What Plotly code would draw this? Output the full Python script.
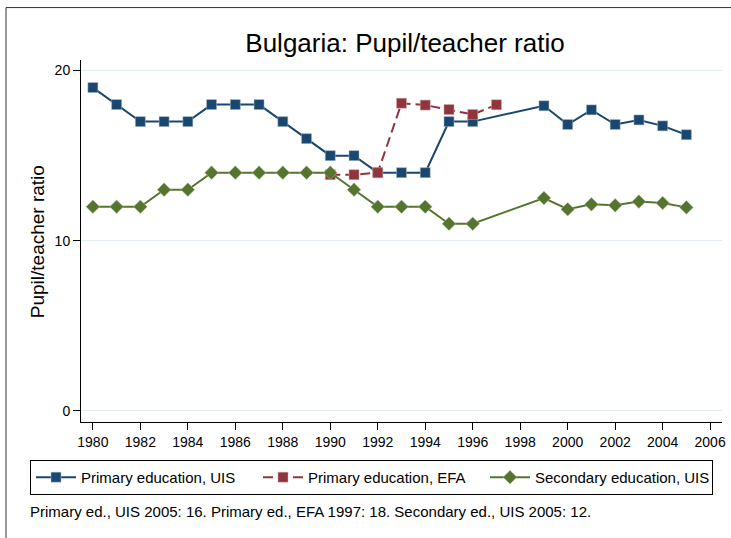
import plotly.graph_objects as go

# ---- data ----
years_primary_uis = [1980, 1981, 1982, 1983, 1984, 1985, 1986, 1987, 1988, 1989, 1990,
                     1991, 1992, 1993, 1994, 1995, 1996, 1999, 2000, 2001, 2002, 2003, 2004, 2005]
primary_uis = [19, 18, 17, 17, 17, 18, 18, 18, 17, 16, 15,
               15, 14, 14, 14, 17, 17, 17.93, 16.83, 17.69, 16.83, 17.1, 16.75, 16.23]

years_primary_efa = [1990, 1991, 1992, 1993, 1994, 1995, 1996, 1997]
primary_efa = [13.88, 13.88, 14.0, 18.08, 17.97, 17.71, 17.42, 17.99]

years_secondary_uis = [1980, 1981, 1982, 1983, 1984, 1985, 1986, 1987, 1988, 1989, 1990,
                       1991, 1992, 1993, 1994, 1995, 1996, 1999, 2000, 2001, 2002, 2003, 2004, 2005]
secondary_uis = [12, 12, 12, 13, 13, 14, 14, 14, 14, 14, 14,
                 13, 12, 12, 12, 11, 11, 12.51, 11.85, 12.14, 12.08, 12.3, 12.22, 11.96]

series_names = ["Primary education, UIS", "Primary education, EFA", "Secondary education, UIS"]
title_text = "Bulgaria: Pupil/teacher ratio"
y_title = "Pupil/teacher ratio"
note_text = "Primary ed., UIS 2005: 16. Primary ed., EFA 1997: 18. Secondary ed., UIS 2005: 12."
x_ticks = list(range(1980, 2007, 2))
y_ticks = [0, 10, 20]

FONT = "Liberation Sans, Arial, Helvetica, sans-serif"
NAVY = "#1a476f"
MAROON = "#90353b"
GREEN = "#55752f"

fig = go.Figure()
fig.add_trace(go.Scatter(
    x=years_primary_uis, y=primary_uis, name=series_names[0], mode="lines+markers",
    line=dict(color=NAVY, width=2),
    marker=dict(symbol="square", size=10, color=NAVY, line=dict(width=0.5, color="#a9bccd"))))
fig.add_trace(go.Scatter(
    x=years_primary_efa, y=primary_efa, name=series_names[1], mode="lines+markers",
    line=dict(color=MAROON, width=2, dash="10px,5px"),
    marker=dict(symbol="square", size=10, color=MAROON, line=dict(width=0.5, color="#d0a9ac"))))
fig.add_trace(go.Scatter(
    x=years_secondary_uis, y=secondary_uis, name=series_names[2], mode="lines+markers",
    line=dict(color=GREEN, width=2),
    marker=dict(symbol="diamond", size=10.5, color=GREEN, line=dict(width=0.5, color="#b3c2a2"))))

W, H = 731, 538
L, R, T, B = 81, 722, 59.5, 422
pw, ph = R - L, B - T

fig.update_layout(
    width=W, height=H,
    margin=dict(l=L, r=W - R, t=T, b=H - B, autoexpand=False),
    paper_bgcolor="white", plot_bgcolor="white",
    font=dict(family=FONT, size=14, color="#000000"),
    title=dict(text=title_text, font=dict(size=26, color="#000000"),
               x=405 / W, xref="container", xanchor="center",
               y=1 - 43 / H, yref="container", yanchor="middle"),
    showlegend=True,
    legend=dict(orientation="h", xref="paper", yref="paper",
                x=(30 - L) / pw, xanchor="left", y=(B - 460) / ph, yanchor="top",
                bordercolor="#000000", borderwidth=1, bgcolor="white",
                font=dict(size=15), itemwidth=40,
                entrywidth=172, entrywidthmode="pixels",
                itemclick=False),
    xaxis=dict(range=[1979.5, 2006.5], tickmode="array", tickvals=x_ticks,
               showgrid=False, zeroline=False, showline=True, linecolor="#000000", linewidth=1,
               ticks="outside", ticklen=7, tickcolor="#000000", tickwidth=1,
               tickfont=dict(size=14)),
    yaxis=dict(range=[-0.65, 20.62], tickmode="array", tickvals=y_ticks,
               showgrid=True, gridcolor="#e4eef0", gridwidth=1.2, zeroline=False,
               showline=True, linecolor="#000000", linewidth=1,
               ticks="outside", ticklen=7, tickcolor="#000000", tickwidth=1,
               tickfont=dict(size=14)),
    annotations=[
        dict(text=y_title, textangle=-90, xref="paper", yref="paper",
             x=(37 - L) / pw, y=(B - 242) / ph, xanchor="center", yanchor="middle",
             showarrow=False, font=dict(size=19)),
        dict(text=note_text, xref="paper", yref="paper",
             x=(28 - L) / pw, y=(B - 512) / ph, xanchor="left", yanchor="middle",
             showarrow=False, font=dict(size=15)),
    ],
    shapes=[
        dict(type="rect", xref="paper", yref="paper",
             x0=(6 - L) / pw, x1=(W + 20 - L) / pw, y0=(B - H - 20) / ph, y1=(B - 7) / ph,
             line=dict(color="#333333", width=1), fillcolor="rgba(0,0,0,0)", layer="below"),
    ],
)

fig.write_html("out.html", config={"displayModeBar": False},
               post_script="document.body.style.margin='0px';")
